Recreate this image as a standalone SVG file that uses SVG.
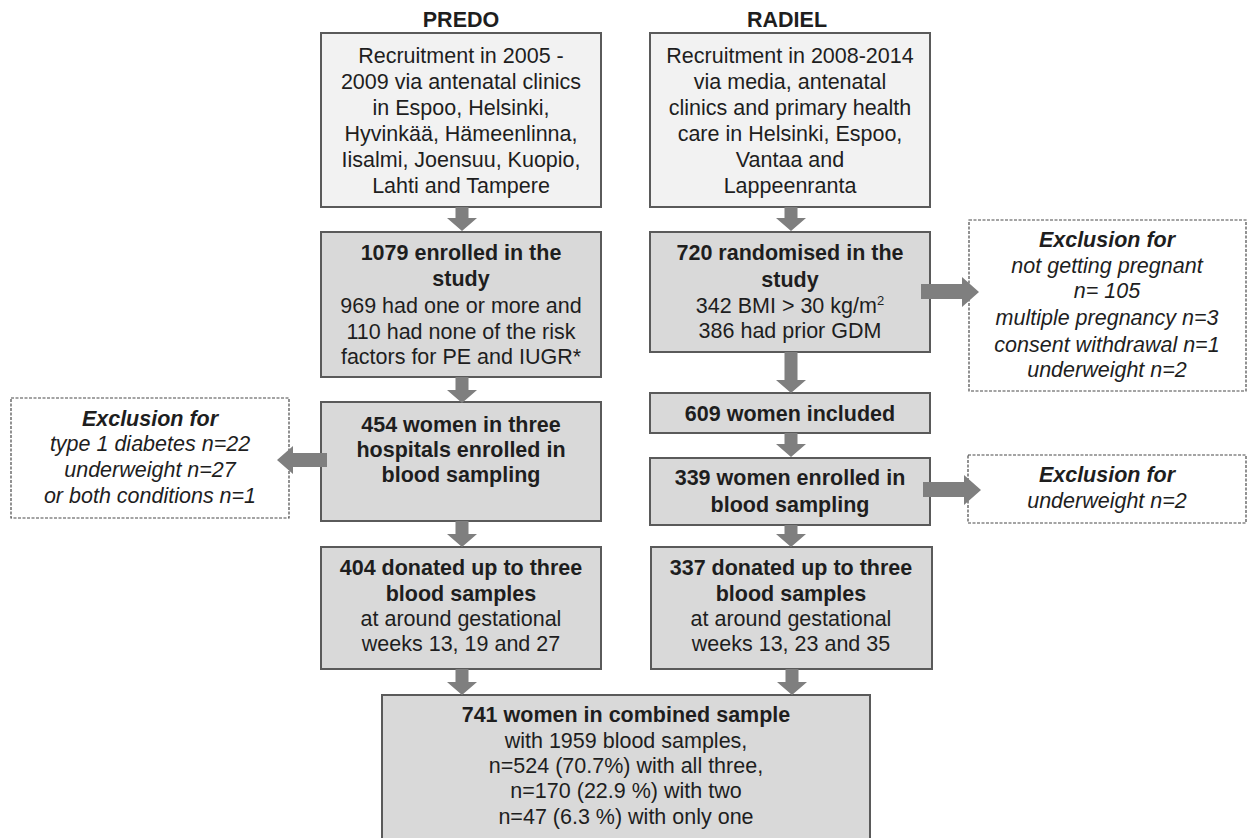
<svg xmlns="http://www.w3.org/2000/svg" width="1247" height="838" viewBox="0 0 1247 838">
<style>
text{font-family:"Liberation Sans",Arial,sans-serif;font-size:21.5px;fill:#1e1e1e;text-anchor:middle}
.b{font-weight:bold}
.i{font-style:italic}
.lt{fill:#f2f2f2;stroke:#5a5a5a;stroke-width:2}
.dk{fill:#d9d9d9;stroke:#5a5a5a;stroke-width:2}
.ex{fill:#ffffff;stroke:#4a4a4a;stroke-width:1.2;stroke-dasharray:3 1.5}
.ar{fill:#7f7f7f;stroke:none}
</style>
<rect width="1247" height="838" fill="#ffffff"/>
<text class="b" x="461" y="27">PREDO</text>
<text class="b" x="787" y="27">RADIEL</text>

<g id="predo-recruit">
<rect class="lt" x="321" y="33" width="280" height="174"/>
<text x="461" y="63">Recruitment in 2005 -</text>
<text x="461" y="89">2009 via antenatal clinics</text>
<text x="461" y="115">in Espoo, Helsinki,</text>
<text x="461" y="141">Hyvinkää, Hämeenlinna,</text>
<text x="461" y="167">Iisalmi, Joensuu, Kuopio,</text>
<text x="461" y="193">Lahti and Tampere</text>
</g>
<g id="radiel-recruit">
<rect class="lt" x="650" y="33" width="280" height="174"/>
<text x="790" y="63">Recruitment in 2008-2014</text>
<text x="790" y="89">via media, antenatal</text>
<text x="790" y="115">clinics and primary health</text>
<text x="790" y="141">care in Helsinki, Espoo,</text>
<text x="790" y="167">Vantaa and</text>
<text x="790" y="193">Lappeenranta</text>
</g>
<g id="predo-enrolled">
<rect class="dk" x="321" y="232" width="280" height="145"/>
<text class="b" x="461" y="260">1079 enrolled in the</text>
<text class="b" x="461" y="286">study</text>
<text x="461" y="313">969 had one or more and</text>
<text x="461" y="339">110 had none of the risk</text>
<text x="461" y="364">factors for PE and IUGR*</text>
</g>
<g id="radiel-randomised">
<rect class="dk" x="650" y="232" width="280" height="120"/>
<text class="b" x="790" y="260">720 randomised in the</text>
<text class="b" x="790" y="287">study</text>
<text x="790" y="313">342 BMI &gt; 30 kg/m<tspan font-size="13" dy="-8">2</tspan></text>
<text x="790" y="338">386 had prior GDM</text>
</g>
<g id="radiel-exclusion-1">
<rect class="ex" x="969" y="220" width="277" height="171"/>
<text class="b i" x="1107" y="247">Exclusion for</text>
<text class="i" x="1107" y="273">not getting pregnant</text>
<text class="i" x="1107" y="298">n= 105</text>
<text class="i" x="1107" y="325">multiple pregnancy n=3</text>
<text class="i" x="1107" y="352">consent withdrawal n=1</text>
<text class="i" x="1107" y="377">underweight n=2</text>
</g>
<g id="radiel-included">
<rect class="dk" x="650" y="393" width="280" height="40"/>
<text class="b" x="790" y="421">609 women included</text>
</g>
<g id="predo-blood-sampling">
<rect class="dk" x="321" y="402" width="280" height="119"/>
<text class="b" x="461" y="432">454 women in three</text>
<text class="b" x="461" y="457">hospitals enrolled in</text>
<text class="b" x="461" y="482">blood sampling</text>
</g>
<g id="predo-exclusion">
<rect class="ex" x="11" y="398" width="278" height="120"/>
<text class="b i" x="150" y="426">Exclusion for</text>
<text class="i" x="150" y="451">type 1 diabetes n=22</text>
<text class="i" x="150" y="477">underweight  n=27</text>
<text class="i" x="150" y="503">or both conditions n=1</text>
</g>
<g id="radiel-blood-sampling">
<rect class="dk" x="650" y="458" width="280" height="67"/>
<text class="b" x="790" y="485">339 women enrolled in</text>
<text class="b" x="790" y="512">blood sampling</text>
</g>
<g id="radiel-exclusion-2">
<rect class="ex" x="968" y="455" width="278" height="68"/>
<text class="b i" x="1107" y="482">Exclusion for</text>
<text class="i" x="1107" y="508">underweight n=2</text>
</g>
<g id="predo-donated">
<rect class="dk" x="321" y="547" width="280" height="122"/>
<text class="b" x="461" y="575">404 donated up to three</text>
<text class="b" x="461" y="601">blood samples</text>
<text x="461" y="626">at around gestational</text>
<text x="461" y="651">weeks 13, 19 and 27</text>
</g>
<g id="radiel-donated">
<rect class="dk" x="651" y="547" width="281" height="122"/>
<text class="b" x="791" y="575">337 donated up to three</text>
<text class="b" x="791" y="601">blood samples</text>
<text x="791" y="626">at around gestational</text>
<text x="791" y="651">weeks 13, 23 and 35</text>
</g>
<g id="combined">
<rect class="dk" x="382" y="695" width="488" height="150"/>
<text class="b" x="626" y="722">741 women in combined sample</text>
<text x="626" y="748">with 1959 blood samples,</text>
<text x="626" y="773">n=524 (70.7%) with all three,</text>
<text x="626" y="798">n=170 (22.9 %) with two</text>
<text x="626" y="824">n=47 (6.3 %) with only one</text>
</g>

<g id="connectors" class="ar">
<path class="ar" d="M455.5,207H468.5V218H477L462,231L447,218H455.5Z"/>
<path class="ar" d="M784.5,207H797.5V218H806L791,231L776,218H784.5Z"/>
<path class="ar" d="M455.5,377H468.5V390H477L462,403L447,390H455.5Z"/>
<path class="ar" d="M784.5,352H797.5V380H806L791,393L776,380H784.5Z"/>
<path class="ar" d="M784.5,433H797.5V444H806L791,457L776,444H784.5Z"/>
<path class="ar" d="M455.5,521H468.5V534H477L462,547L447,534H455.5Z"/>
<path class="ar" d="M784.5,525H797.5V534H806L791,547L776,534H784.5Z"/>
<path class="ar" d="M455.5,669H468.5V682H477L462,695L447,682H455.5Z"/>
<path class="ar" d="M785.5,669H798.5V682H807L792,695L777,682H785.5Z"/>
<path class="ar" d="M921,284H962V277L979,292L962,307V299H921Z"/>
<path class="ar" d="M923,482H964V475L981,490L964,505V497H923Z"/>
<path class="ar" d="M327,453H293V446L277,460L293,474V467H327Z"/>
</g>
</svg>
